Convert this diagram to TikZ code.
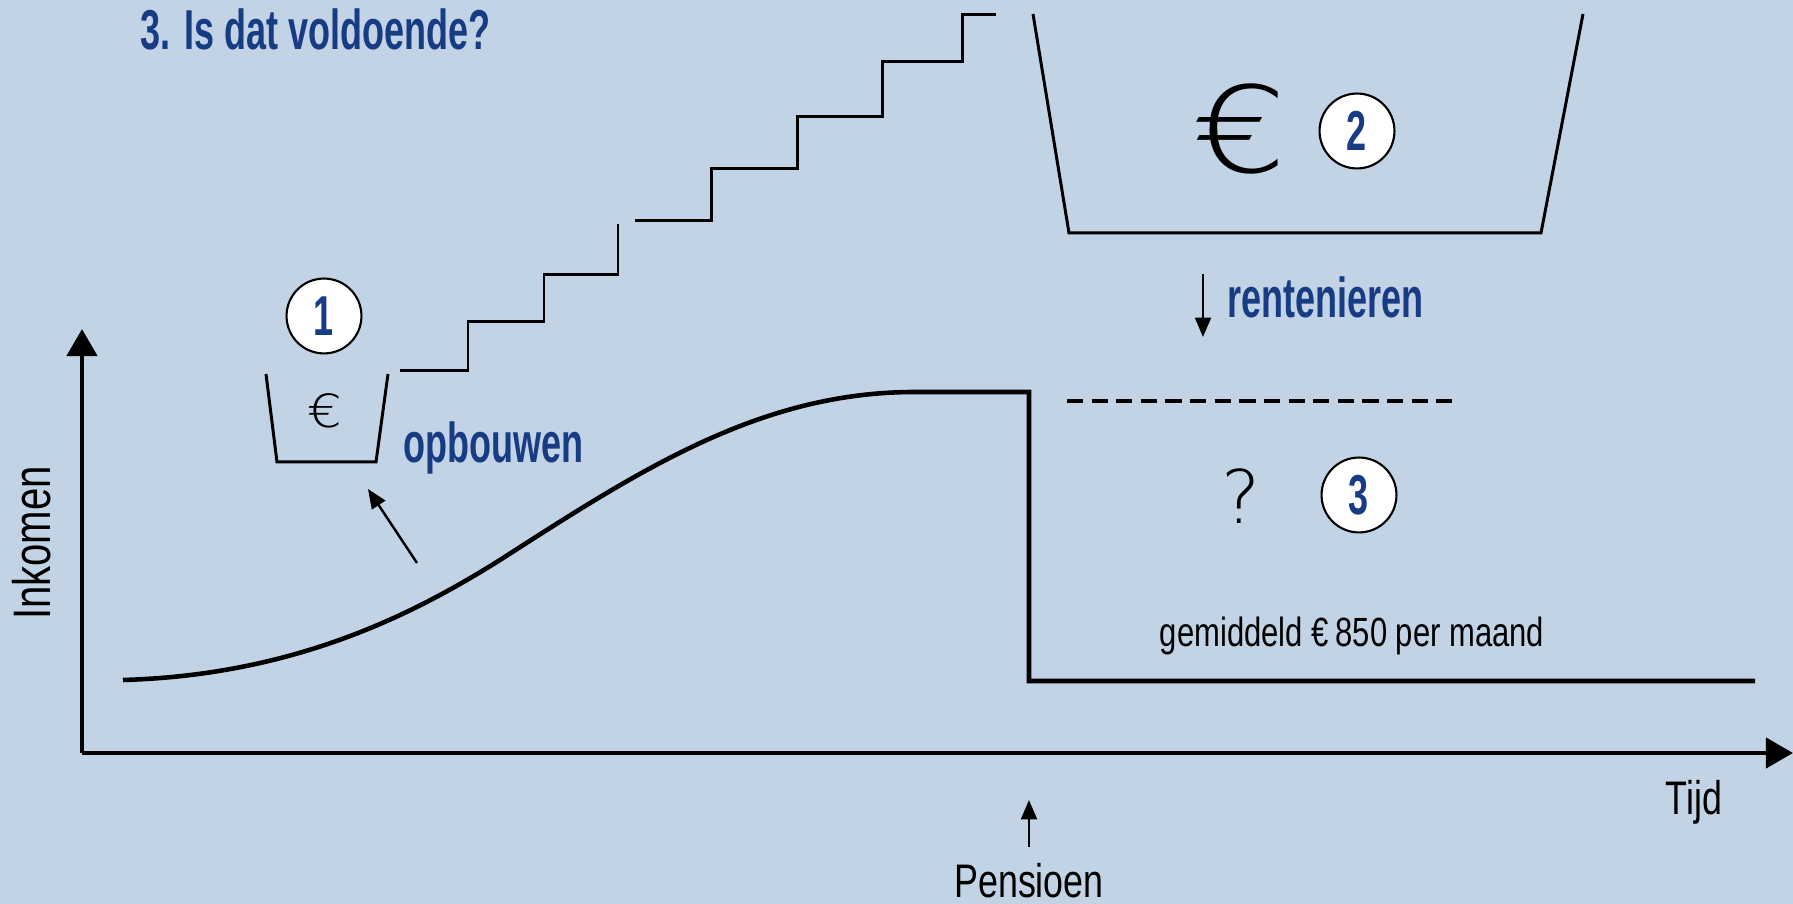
\documentclass[tikz,border=0pt]{standalone}
\usepackage{fontspec}
\setmainfont{Liberation Sans}[FakeStretch=0.76]
\newfontfamily\smal{Liberation Sans}[FakeStretch=0.64]
\newfontfamily\dunfont{DejaVuSans-ExtraLight.ttf}
\usetikzlibrary{arrows.meta}
\definecolor{achter}{RGB}{195,211,230}
\definecolor{donkerblauw}{RGB}{23,60,132}
\tikzset{
  as/.style={line width=1.4pt,-{Triangle[length=7.7pt,width=8.5pt]}},
  pijl/.style={line width=0.7pt,-{Triangle[length=5.5pt,width=4.5pt]}},
  lijn/.style={line width=1.3pt},
  dun/.style={line width=0.85pt},
  blauw/.style={text=donkerblauw,font=\smal\fontsize{16}{18}\selectfont\bfseries,inner sep=0pt},
  gewoon/.style={font=\fontsize{13.4}{15}\selectfont,inner sep=0pt},
  nummer/.style={circle,draw,line width=0.6pt,fill=white,minimum size=21.3pt,inner sep=0pt,
    text=donkerblauw,font=\smal\fontsize{16}{18}\selectfont\bfseries}
}
\begin{document}
\begin{tikzpicture}[x=0.01cm,y=-0.01cm]
\fill[achter] (0,0) rectangle (1793,904);
\useasboundingbox (0,0) rectangle (1793,904);
% assen
\coordinate (O) at (82,753);
\coordinate (ytop) at (82,329);
\coordinate (xend) at (1793,753);
\draw[as] (O) -- (ytop);
\draw[as] (O) -- (xend);
\node[gewoon,font=\fontsize{15}{17}\selectfont,rotate=90,anchor=base] (inkomen) at (51,543) {Inkomen};
\node[gewoon,anchor=base] (tijd) at (1694,815) {Tijd};
\node[gewoon,anchor=base] (pensioen) at (1029,898) {Pensioen};
\coordinate (pens) at (1029,800);
\draw[pijl] (pensioen.north) ++(0,-16) -- (pens);
% inkomen
\draw[lijn] (123,680) .. controls (300,675) and (420,610) .. (500,560)
  .. controls (640,470) and (760,392) .. (915,392) -- (1029,392) -- (1029,681) -- (1755,681);
\draw[line width=1pt,dash pattern=on 4.6pt off 2.4pt] (1067,401) -- (1452,401);
% trap
\draw[dun] (400,371) -| (468,322) -| (544,275) -| (618,224);
\draw[dun] (635,221) -| (711,169) -| (797,117) -| (882,62) -| (962,15) -- (996,15);
% emmers
\draw[dun] (266,374) -- (277,462) -- (376,462) -- (388,374);
\draw[dun] (1033,14) -- (1069,233) -- (1541,233) -- (1583,14);
\node[inner sep=0pt,font=\dunfont\fontsize{13}{15}\selectfont,xscale=1.2,transform shape] (eurosmall) at (325,411) {€};
\node[inner sep=0pt,font=\dunfont\fontsize{34}{36}\selectfont,xscale=1.25,transform shape] (eurobig) at (1240,129) {€};
\node[inner sep=0pt,font=\dunfont\fontsize{21}{23}\selectfont] (vraag) at (1241,496) {?};
\node[nummer] (een) at (324,316) {1};
\node[nummer] (twee) at (1357,131) {2};
\node[nummer] (drie) at (1359,495) {3};
% teksten
\node[blauw,anchor=base west] (titel) at (140,50) {3. Is dat voldoende?};
\node[blauw,anchor=base west] (opbouwen) at (403,463) {opbouwen};
\node[blauw,anchor=base west] (rentenieren) at (1227,318) {rentenieren};
\coordinate (rbegin) at (1203,274);
\coordinate (rend) at (1203,337);
\draw[pijl] (rbegin) -- (rend);
\coordinate (obegin) at (417,563);
\coordinate (oend) at (368,489);
\draw[pijl] (obegin) -- (oend);
\node[anchor=base,inner sep=0pt,font=\fontsize{11.6}{13}\selectfont] (gem) at (1352,647) {gemiddeld €\,850 per maand};
\end{tikzpicture}
\end{document}
